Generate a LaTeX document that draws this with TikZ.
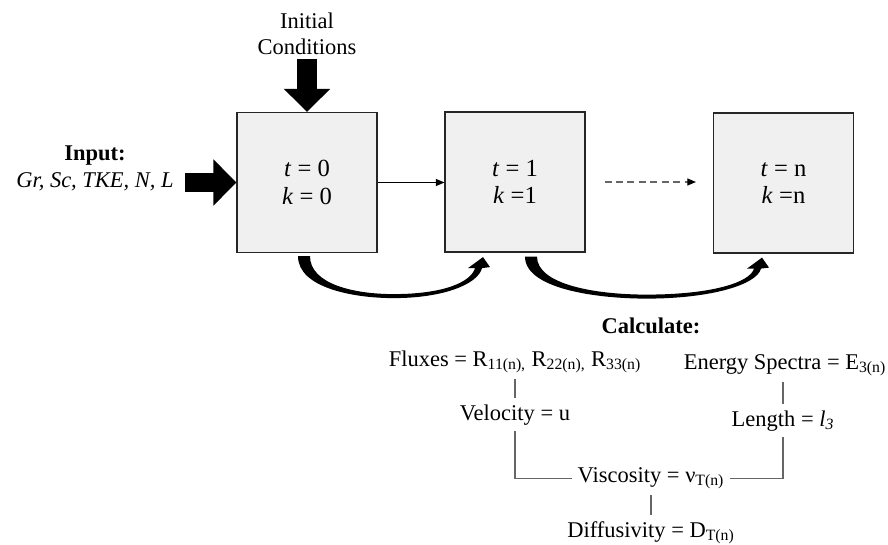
\documentclass[tikz,border=0pt]{standalone}
\usepackage{fontspec}
\setmainfont{Liberation Serif}
\usetikzlibrary{arrows.meta, calc}

\begin{document}
\begin{tikzpicture}[x=0.02cm, y=-0.02cm, font=\fontsize{12.8}{15.3}\selectfont,
    stepbox/.style={draw=black!85, line width=0.7pt, fill=black!6, minimum size=2.8cm, align=center, inner sep=0pt,
        font=\fontsize{14}{15.5}\selectfont},
    blockarrow/.style={line width=0.4cm, -{Triangle[length=0.46cm, width=0.9cm]}},
    calcline/.style={draw=black!60, line width=0.6pt},
    calctext/.style={anchor=base}]
\useasboundingbox (0,0) rectangle (888,544);
% Define the thick curved arrows under the boxes
\def\calcarrow#1#2{
    % #1 = start point under a box, #2 = span to the tip
    \begin{scope}[shift={#1}]
    \fill (-6,0) .. controls (-6,32) and ({0.28*#2},42) .. ({0.5*#2},42)
        .. controls ({0.78*#2},42) and ({#2-5},28) .. ({#2-1},12)
        -- ({#2+7},11) -- (#2,1) -- ({#2-15},12) -- ({#2-8},12)
        .. controls ({#2-12},26) and ({0.78*#2},38) .. ({0.5*#2},38)
        .. controls ({0.28*#2},38) and (6,28) .. (6,0) -- cycle;
    \end{scope}
}
% Time steps
\node[stepbox] (t0) at (307,182.5) {\textit{t} = 0\\\textit{k} = 0};
\node[stepbox] (t1) at (515,182) {\textit{t} = 1\\\textit{k} =1};
\node[stepbox] (tn) at (783.5,183) {\textit{t} = n\\\textit{k} =n};

% Inputs
\node[align=center, anchor=south, inner sep=2pt] (init) at (307,59) {Initial\\Conditions};
\node[align=center, inner xsep=6pt] (input) at (95,168) {\textbf{Input:}\\\textit{Gr, Sc, TKE, N, L}};
\draw[blockarrow] (init.south) -- (t0.north);
\draw[blockarrow] (input.east |- t0.west) -- (t0.west);

% Steps
\draw[line width=0.5pt, -{Triangle[length=0.17cm, width=0.14cm]}] (t0.east) -- (t0.east -| t1.west);
\draw[black!60, line width=0.6pt, dash pattern=on 4pt off 2.5pt, -{Triangle[length=0.17cm, width=0.14cm, black]},
    shorten <=0.38cm, shorten >=0.34cm] (t1.east) -- (t1.east -| tn.west);
\calcarrow{($(t0.south)+(-3,3)$)}{179}
\calcarrow{($(t1.south)+(16,4)$)}{231}

% Calculate
\node[calctext] (calc) at (651,333) {\textbf{Calculate:}};
\node[calctext] (flux) at (515,366) {Fluxes = R\textsubscript{11(n),} R\textsubscript{22(n),} R\textsubscript{33(n)}};
\node[calctext] (vel) at (515,420) {Velocity = u};
\node[calctext] (spec) at (785,369) {Energy Spectra = E\textsubscript{3(n)}};
\node[calctext] (len) at (783,426) {Length = \textit{l}\textsubscript{\textit{3}}};
\node[calctext] (visc) at (651,482) {Viscosity = ν\textsubscript{T(n)}};
\node[calctext] (diff) at (651,537) {Diffusivity = D\textsubscript{T(n)}};
\draw[calcline] (flux) -- (vel);
\draw[calcline] (len.north |- spec.south) -- (len.north);
\draw[calcline] (vel.south) |- (visc.west);
\draw[calcline] (len.south) |- (visc.east);
\draw[calcline] (visc) -- (diff);
\end{tikzpicture}
\end{document}
